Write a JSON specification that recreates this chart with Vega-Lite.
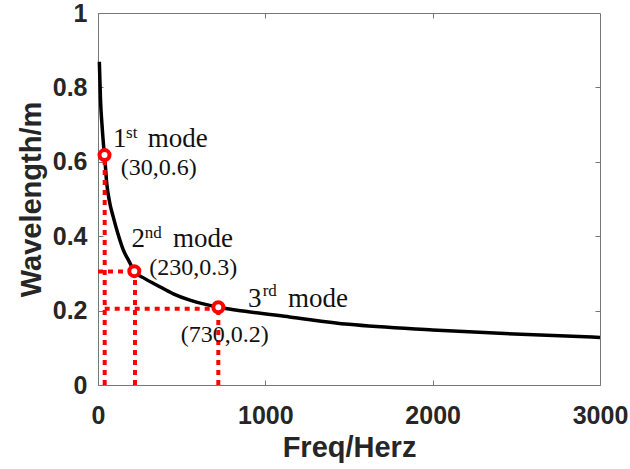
{
  "$schema": "https://vega.github.io/schema/vega-lite/v6.json",
  "width": 502,
  "height": 372,
  "autosize": {"type": "none"},
  "padding": {"left": 98, "top": 13, "right": 30, "bottom": 84},
  "background": "white",
  "config": {
    "view": {"stroke": "#777777", "strokeWidth": 1},
    "axis": {
      "grid": false,
      "domain": false,
      "labelFlush": false,
      "tickColor": "#777777",
      "tickSize": -5,
      "labelFont": "Liberation Sans",
      "labelFontWeight": "bold",
      "labelFontSize": 25,
      "labelColor": "#262626",
      "titleFont": "Liberation Sans",
      "titleFontWeight": "bold",
      "titleFontSize": 29,
      "titleColor": "#262626"
    }
  },
  "datasets": {
    "curve": [
      {"f": 8, "w": 0.869}, {"f": 15, "w": 0.766}, {"f": 24, "w": 0.699},
      {"f": 34, "w": 0.64}, {"f": 39, "w": 0.618}, {"f": 52, "w": 0.543},
      {"f": 70, "w": 0.49}, {"f": 91, "w": 0.452}, {"f": 120, "w": 0.405},
      {"f": 151, "w": 0.363}, {"f": 185, "w": 0.333}, {"f": 217, "w": 0.306},
      {"f": 280, "w": 0.286}, {"f": 350, "w": 0.269}, {"f": 450, "w": 0.245},
      {"f": 549, "w": 0.228}, {"f": 719, "w": 0.209}, {"f": 900, "w": 0.197},
      {"f": 1145, "w": 0.183}, {"f": 1500, "w": 0.163}, {"f": 2000, "w": 0.148},
      {"f": 2400, "w": 0.139}, {"f": 3000, "w": 0.128}
    ],
    "guides": [
      {"f": 40, "f2": 40, "w": 0, "w2": 0.618},
      {"f": 221, "f2": 221, "w": 0, "w2": 0.305},
      {"f": 719, "f2": 719, "w": 0, "w2": 0.209},
      {"f": 0, "f2": 217, "w": 0.305, "w2": 0.305},
      {"f": 40, "f2": 719, "w": 0.205, "w2": 0.205}
    ],
    "modes": [
      {"f": 39, "w": 0.618}, {"f": 217, "w": 0.306}, {"f": 719, "w": 0.209}
    ],
    "mainText": [
      {"f": 90, "w": 0.64, "t": "1"}, {"f": 297, "w": 0.64, "t": "mode"},
      {"f": 200, "w": 0.37, "t": "2"}, {"f": 448, "w": 0.37, "t": "mode"},
      {"f": 897, "w": 0.2105, "t": "3"}, {"f": 1135, "w": 0.2105, "t": "mode"}
    ],
    "supText": [
      {"f": 168, "w": 0.665, "t": "st"},
      {"f": 280, "w": 0.396, "t": "nd"},
      {"f": 984, "w": 0.239, "t": "rd"}
    ],
    "coordText": [
      {"f": 136, "w": 0.565, "t": "(30,0.6)"},
      {"f": 307, "w": 0.296, "t": "(230,0.3)"},
      {"f": 494, "w": 0.116, "t": "(730,0.2)"}
    ]
  },
  "resolve": {"axis": {"x": "independent", "y": "independent"}},
  "layer": [
    {
      "data": {"name": "curve"},
      "mark": {"type": "line", "color": "black", "strokeWidth": 3.5, "interpolate": "monotone"},
      "encoding": {
        "x": {"field": "f", "type": "quantitative", "scale": {"domain": [0, 3000], "nice": false},
          "axis": {"orient": "bottom", "values": [0, 1000, 2000, 3000], "format": "d", "labelPadding": 23, "title": "Freq/Herz", "titlePadding": 5}},
        "y": {"field": "w", "type": "quantitative", "scale": {"domain": [0, 1], "nice": false},
          "axis": {"orient": "left", "values": [0, 0.2, 0.4, 0.6, 0.8, 1], "format": "~g", "labelPadding": 16, "title": "Wavelength/m", "titlePadding": 6}}
      }
    },
    {
      "data": {"name": "guides"},
      "mark": {"type": "rule", "color": "#ff0000", "strokeWidth": 4, "strokeDash": [5, 5]},
      "encoding": {
        "x": {"field": "f", "type": "quantitative",
          "axis": {"orient": "top", "values": [1000, 2000], "labels": false, "title": null}},
        "x2": {"field": "f2"},
        "y": {"field": "w", "type": "quantitative",
          "axis": {"orient": "right", "values": [0.2, 0.4, 0.6, 0.8], "labels": false, "title": null}},
        "y2": {"field": "w2"}
      }
    },
    {
      "data": {"name": "modes"},
      "mark": {"type": "point", "shape": "circle", "filled": true, "fill": "white", "stroke": "#ff0000", "strokeWidth": 4, "size": 100, "opacity": 1},
      "encoding": {
        "x": {"field": "f", "type": "quantitative", "axis": null},
        "y": {"field": "w", "type": "quantitative", "axis": null}
      }
    },
    {
      "data": {"name": "mainText"},
      "mark": {"type": "text", "font": "Liberation Serif", "fontSize": 27, "align": "left", "baseline": "alphabetic", "color": "#111111"},
      "encoding": {
        "x": {"field": "f", "type": "quantitative", "axis": null},
        "y": {"field": "w", "type": "quantitative", "axis": null},
        "text": {"field": "t"}
      }
    },
    {
      "data": {"name": "supText"},
      "mark": {"type": "text", "font": "Liberation Serif", "fontSize": 17, "align": "left", "baseline": "alphabetic", "color": "#111111"},
      "encoding": {
        "x": {"field": "f", "type": "quantitative", "axis": null},
        "y": {"field": "w", "type": "quantitative", "axis": null},
        "text": {"field": "t"}
      }
    },
    {
      "data": {"name": "coordText"},
      "mark": {"type": "text", "font": "Liberation Serif", "fontSize": 24, "align": "left", "baseline": "alphabetic", "color": "#111111"},
      "encoding": {
        "x": {"field": "f", "type": "quantitative", "axis": null},
        "y": {"field": "w", "type": "quantitative", "axis": null},
        "text": {"field": "t"}
      }
    }
  ]
}
